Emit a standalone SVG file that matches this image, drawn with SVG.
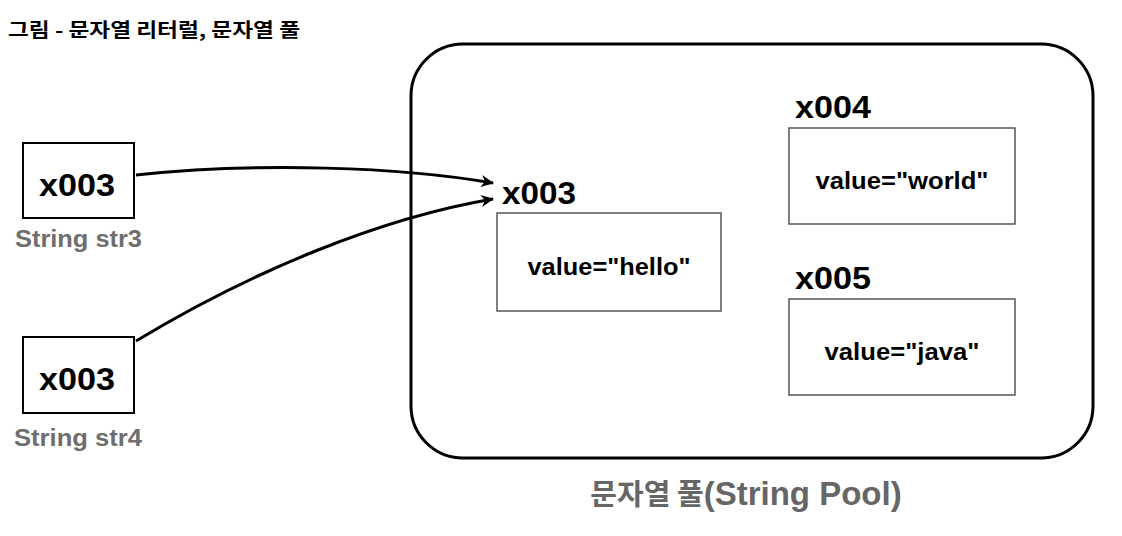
<svg xmlns="http://www.w3.org/2000/svg" width="1122" height="536" viewBox="0 0 1122 536">
<style>
  .t { font-family: "Liberation Sans", Arial, sans-serif; font-weight: bold; }
  .k { font-family: "Noto Sans CJK KR", "Liberation Sans", sans-serif; font-weight: bold; }
  .addr { font-size: 31px; fill: #000; }
  .val { font-size: 23px; fill: #000; }
  .var { font-size: 23px; fill: #6e6e6e; }
  .cell { fill: #fff; stroke: #000; stroke-width: 2; }
  .obj { fill: #fff; stroke: #555; stroke-width: 1.5; }
  .conn { fill: none; stroke: #000; stroke-width: 3; }
</style>
<defs>
  <marker id="arr" markerWidth="14" markerHeight="12" refX="12" refY="6" orient="auto" markerUnits="userSpaceOnUse">
    <path d="M0,0 L13,6 L0,12 L4,6 z" fill="#000"/>
  </marker>
</defs>
<rect width="1122" height="536" fill="#fff"/>
<text class="k" x="8" y="37" font-size="19" fill="#000" textLength="292" lengthAdjust="spacingAndGlyphs">그림 - 문자열 리터럴, 문자열 풀</text>

<g id="pool">
  <rect x="411" y="44" width="682" height="414" rx="52" ry="52" fill="none" stroke="#000" stroke-width="3"/>
  <text class="k" x="746" y="505" text-anchor="middle" font-size="29" fill="#666">문자열 풀<tspan class="t" font-size="33">(String Pool)</tspan></text>
</g>

<g id="str3">
  <rect class="cell" x="23" y="143" width="111" height="75"/>
  <text class="t addr" x="77" y="196" text-anchor="middle" textLength="76" lengthAdjust="spacingAndGlyphs">x003</text>
  <text class="t var" x="15" y="247" textLength="127" lengthAdjust="spacingAndGlyphs">String str3</text>
</g>

<g id="str4">
  <rect class="cell" x="23" y="337" width="111" height="76"/>
  <text class="t addr" x="77" y="390" text-anchor="middle" textLength="76" lengthAdjust="spacingAndGlyphs">x003</text>
  <text class="t var" x="14" y="446" textLength="128" lengthAdjust="spacingAndGlyphs">String str4</text>
</g>

<g id="x003">
  <text class="t addr" x="502" y="204" textLength="74" lengthAdjust="spacingAndGlyphs">x003</text>
  <rect class="obj" x="497" y="213" width="224" height="98"/>
  <text class="t val" x="609" y="275" text-anchor="middle" textLength="163" lengthAdjust="spacingAndGlyphs">value="hello"</text>
</g>

<g id="x004">
  <text class="t addr" x="795" y="118" textLength="76" lengthAdjust="spacingAndGlyphs">x004</text>
  <rect class="obj" x="789" y="128" width="226" height="96"/>
  <text class="t val" x="902" y="189" text-anchor="middle" textLength="173" lengthAdjust="spacingAndGlyphs">value="world"</text>
</g>

<g id="x005">
  <text class="t addr" x="795" y="289" textLength="76" lengthAdjust="spacingAndGlyphs">x005</text>
  <rect class="obj" x="789" y="299" width="226" height="96"/>
  <text class="t val" x="902" y="360" text-anchor="middle" textLength="155" lengthAdjust="spacingAndGlyphs">value="java"</text>
</g>

<g id="connectors">
  <path class="conn" d="M136,175 C260,162 400,167 493,183" marker-end="url(#arr)"/>
  <path class="conn" d="M136,341 C250,272 380,218 493,199" marker-end="url(#arr)"/>
</g>
</svg>
